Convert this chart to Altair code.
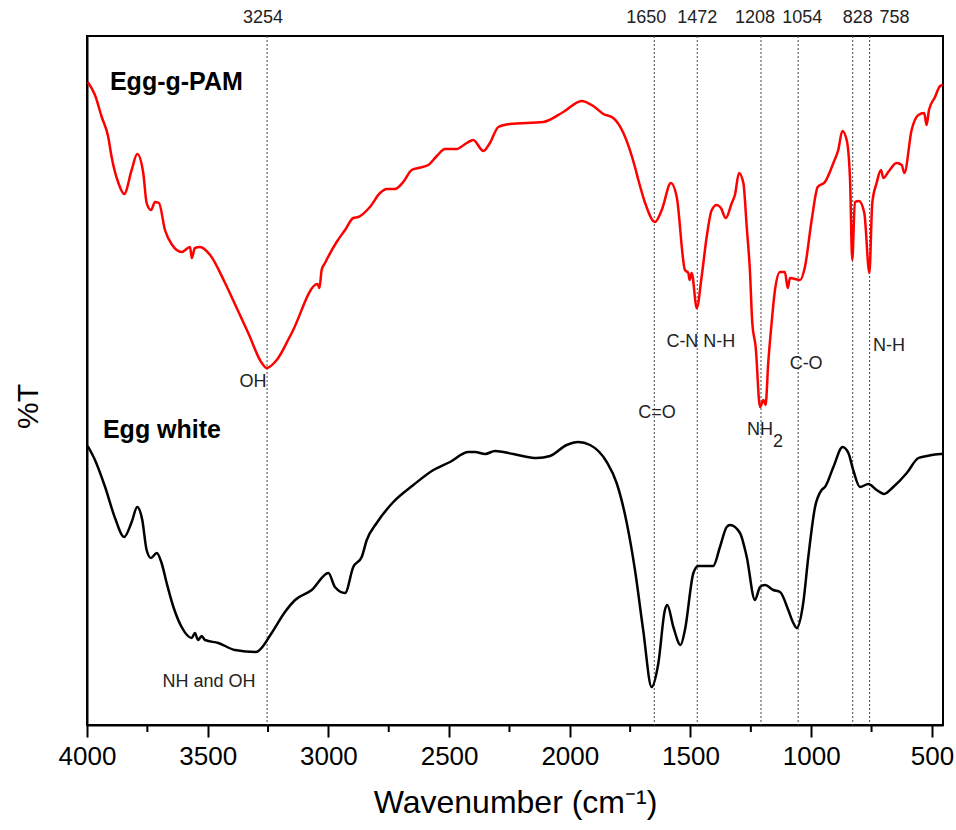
import altair as alt
import pandas as pd

# ---------------- data ----------------
# Egg-g-PAM spectrum (red), wavenumber (cm-1) and transmittance (arbitrary units)
pam_wn = [3997, 3967, 3939, 3912, 3898, 3870, 3846, 3815, 3792, 3767,
          3753, 3735, 3718, 3702, 3677, 3647, 3608, 3573, 3566, 3553,
          3532, 3490, 3428, 3380, 3332, 3276, 3256, 3214, 3152, 3045,
          3037, 3028, 3014, 2966, 2931, 2897, 2876, 2828, 2786, 2758,
          2724, 2690, 2655, 2628, 2586, 2551, 2517, 2469, 2427, 2400,
          2358, 2331, 2296, 2248, 2110, 2027, 1951, 1903, 1861, 1820,
          1778, 1730, 1716, 1688, 1647, 1619, 1581, 1557, 1523, 1509,
          1504, 1495, 1474, 1454, 1433, 1412, 1391, 1374, 1354, 1329,
          1316, 1299, 1281, 1267, 1254, 1244, 1230, 1212, 1198, 1189,
          1178, 1164, 1150, 1129, 1109, 1097, 1088, 1046, 1026, 998,
          973, 943, 908, 888, 871, 853, 839, 830, 819, 802,
          780, 759, 747, 729, 711, 701, 681, 646, 625, 614,
          584, 556, 532, 522, 512, 487, 466, 455]
pam_t = [643, 630, 608, 588, 568, 542, 531, 555, 571, 552,
         522, 515, 523, 522, 495, 480, 473, 478, 467, 477,
         478, 470, 442, 417, 392, 362, 357, 365, 392, 441,
         437, 455, 462, 483, 495, 507, 508, 518, 532, 536,
         536, 543, 555, 557, 560, 569, 576, 576, 582, 585,
         574, 582, 598, 601, 603, 613, 624, 619, 611, 607,
         592, 558, 545, 522, 503, 515, 542, 528, 455, 452,
         445, 452, 417, 448, 488, 515, 520, 517, 507, 522,
         530, 552, 542, 498, 455, 402, 378, 318, 325, 320,
         362, 402, 435, 453, 453, 437, 447, 445, 458, 505,
         538, 543, 562, 575, 594, 585, 545, 465, 523, 524,
         512, 452, 522, 542, 555, 547, 553, 562, 560, 552,
         595, 610, 612, 600, 615, 628, 639, 640]

# Egg white spectrum (black)
egg_wn = [3997, 3967, 3925, 3884, 3846, 3815, 3792, 3771, 3753, 3735,
          3711, 3691, 3670, 3642, 3608, 3566, 3553, 3540, 3525, 3511,
          3456, 3387, 3300, 3285, 3235, 3180, 3138, 3069, 3000, 2973,
          2931, 2897, 2862, 2841, 2800, 2731, 2648, 2565, 2496, 2420,
          2393, 2351, 2310, 2234, 2137, 2082, 2013, 1965, 1916, 1847,
          1806, 1764, 1730, 1696, 1661, 1633, 1606, 1596, 1571, 1541,
          1523, 1488, 1468, 1406, 1378, 1350, 1336, 1295, 1267, 1233,
          1212, 1191, 1157, 1129, 1095, 1074, 1060, 1033, 1012, 984,
          957, 943, 908, 870, 846, 826, 798, 763, 729, 698,
          660, 604, 556, 522, 466, 455]
egg_t = [279, 265, 238, 207, 188, 203, 218, 205, 175, 167,
         172, 162, 142, 118, 98, 87, 92, 85, 89, 85,
         82, 75, 73, 75, 92, 113, 125, 135, 152, 138,
         132, 158, 168, 185, 202, 223, 240, 255, 263, 273,
         273, 271, 274, 271, 267, 269, 280, 283, 280, 263,
         242, 202, 155, 95, 38, 62, 115, 120, 98, 80,
         95, 152, 159, 159, 178, 198, 200, 192, 168, 125,
         138, 140, 135, 133, 115, 102, 97, 122, 168, 218,
         235, 238, 258, 278, 272, 255, 238, 241, 235, 231,
         238, 252, 267, 269, 271, 271]

# marked peaks (dashed lines + labels above the frame)
peak_wn = [3254, 1650, 1472, 1208, 1054, 828, 758]
peak_label = ["3254", "1650", "1472", "1208", "1054", "828", "758"]

# axis ticks
major_ticks = [4000, 3500, 3000, 2500, 2000, 1500, 1000, 500]
minor_ticks = [3750, 3250, 2750, 2250, 1750, 1250, 750]

# band assignments
ann_text = ["OH", "C-N N-H", "C=O", "NH", "C-O", "N-H", "NH and OH"]
ann_wn = [3312, 1457, 1639, 1212, 1021, 678, 3495]
ann_t = [343, 383, 312, 295, 361, 379, 43]

# series names
series_text = ["Egg-g-PAM", "Egg white"]
series_wn = [3905, 3934]
series_t = [643, 295]

# ---------------- styling ----------------
FONT = "Liberation Sans"
W, H = 856, 689
peak_label_dx = [-4, -8, 0, -6, 4, 5, 25]

x_scale = alt.Scale(domain=[454, 4000], reverse=True, nice=False, zero=False)
y_scale = alt.Scale(domain=[0, 689], nice=False, zero=False)

x_axis = alt.Axis(values=major_ticks, format="d", tickSize=12, tickWidth=2,
                  tickColor="black", domainColor="black", domainWidth=2,
                  labelFontSize=26, labelFont=FONT, labelColor="black",
                  labelPadding=6, labelFlush=False, labelOverlap=False,
                  title="Wavenumber (cm⁻¹)", titleFont=FONT, titleFontSize=32,
                  titleFontWeight="normal", titleColor="black", titlePadding=18,
                  grid=False)
y_axis = alt.Axis(labels=False, ticks=False, domainColor="black", domainWidth=2,
                  title="%T", titleFont=FONT, titleFontSize=30,
                  titleFontWeight="normal", titleColor="black", titlePadding=44,
                  titleY=370, grid=False)

X = alt.X("wn:Q", scale=x_scale, axis=x_axis)
Y = alt.Y("t:Q", scale=y_scale, axis=y_axis)

pam = pd.DataFrame({"wn": pam_wn, "t": pam_t})
egg = pd.DataFrame({"wn": egg_wn, "t": egg_t})
peaks = pd.DataFrame({"wn": peak_wn, "label": peak_label})
minors = pd.DataFrame({"wn": minor_ticks})
ann = pd.DataFrame({"wn": ann_wn, "t": ann_t, "label": ann_text})
series = pd.DataFrame({"wn": series_wn, "t": series_t, "label": series_text})

layers = []

layers.append(alt.Chart(peaks).mark_rule(color="#444444", strokeWidth=1, strokeDash=[2, 2]).encode(
    x=X, y=alt.value(0), y2=alt.value(H)))

layers.append(alt.Chart(egg).mark_line(color="black", strokeWidth=2.5,
                                       interpolate="monotone").encode(x=X, y=Y))
layers.append(alt.Chart(pam).mark_line(color="#ff0000", strokeWidth=2.5,
                                       interpolate="monotone").encode(x=X, y=Y))

layers.append(alt.Chart(minors).mark_rule(color="black", strokeWidth=2).encode(
    x=X, y=alt.value(H), y2=alt.value(H + 7)))

for i in range(len(peak_wn)):
    d = peaks.iloc[[i]]
    layers.append(alt.Chart(d).mark_text(font=FONT, fontSize=18, color="#222222",
                                         baseline="middle", align="center",
                                         dx=peak_label_dx[i]).encode(
        x=X, y=alt.value(-18), text="label:N"))

layers.append(alt.Chart(ann).mark_text(font=FONT, fontSize=18, color="#222222",
                                       baseline="middle", align="center").encode(
    x=X, y=Y, text="label:N"))

# subscript of NH2
sub = ann[ann["label"] == "NH"].assign(label="2")
layers.append(alt.Chart(sub).mark_text(font=FONT, fontSize=18, color="#222222",
                                       baseline="middle", align="left", dx=13, dy=12).encode(
    x=X, y=Y, text="label:N"))

layers.append(alt.Chart(series).mark_text(font=FONT, fontSize=25, fontWeight="bold",
                                          color="black", baseline="middle", align="left").encode(
    x=X, y=Y, text="label:N"))

chart = alt.layer(*layers).properties(
    width=W, height=H,
    autosize=alt.AutoSizeParams(type="none"),
    padding={"left": 87, "top": 36, "right": 13, "bottom": 105},
).configure_view(stroke="black", strokeWidth=2)

chart.save("out.html", embed_options={"renderer": "svg", "actions": False})
